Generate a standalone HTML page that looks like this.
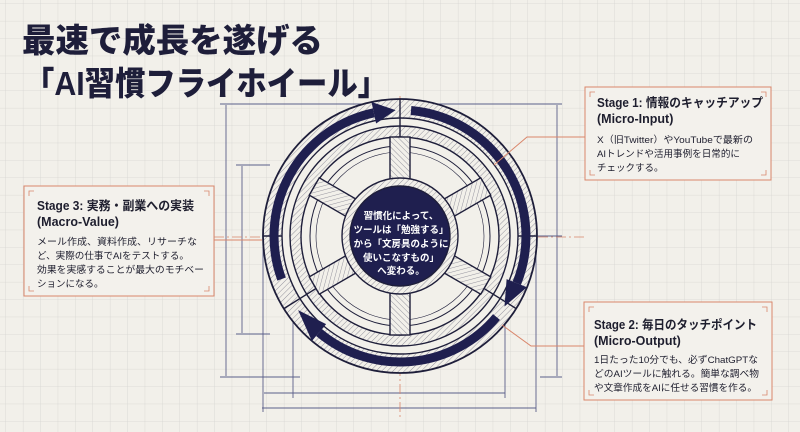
<!DOCTYPE html>
<html><head><meta charset="utf-8"><style>
html,body{margin:0;padding:0;width:800px;height:432px;overflow:hidden;background:#f2f0ea}
.t{font-family:"Liberation Sans","Noto Sans CJK JP",sans-serif}
</style></head><body>
<svg width="800" height="432" viewBox="0 0 800 432" xmlns="http://www.w3.org/2000/svg">
<defs>
<pattern id="g" width="17.4" height="17.4" patternUnits="userSpaceOnUse" x="6" y="4">
<path d="M17.4 0V17.4M0 17.4H17.4" stroke="#d6d5d2" stroke-width="0.8" fill="none"/></pattern>
<pattern id="h" width="4" height="4" patternUnits="userSpaceOnUse" patternTransform="rotate(45)">
<rect width="4" height="4" fill="#f2f0ea"/><line x1="0" y1="0" x2="0" y2="4" stroke="#8a8a95" stroke-width="0.9"/></pattern>
</defs>
<rect width="800" height="432" fill="url(#g)"/>
<!-- title -->
<text x="22" y="52" class="t" font-size="33" font-weight="900" fill="#1e1e3a" textLength="301" lengthAdjust="spacingAndGlyphs">最速で成長を遂げる</text>
<text x="24" y="95" class="t" font-size="33" font-weight="900" fill="#1e1e3a" textLength="364" lengthAdjust="spacingAndGlyphs">「AI習慣フライホイール」</text>

<!-- dimension lines -->
<g stroke="#5a5f8a" stroke-width="0.9" fill="#5a5f8a">
<line x1="226" y1="105" x2="226" y2="376"/><line x1="220" y1="104" x2="400" y2="104"/><line x1="220" y1="377" x2="300" y2="377"/>
<line x1="242" y1="166" x2="242" y2="333"/><line x1="236" y1="165" x2="270" y2="165"/><line x1="236" y1="334" x2="270" y2="334"/>
<line x1="264" y1="393" x2="505" y2="393"/><line x1="262" y1="408" x2="536" y2="408"/>
<line x1="293" y1="320" x2="293" y2="398"/><line x1="505" y1="300" x2="505" y2="398"/>
<line x1="263" y1="240" x2="263" y2="412"/><line x1="536" y1="240" x2="536" y2="412"/>
<line x1="557" y1="105" x2="557" y2="376"/><line x1="400" y1="104" x2="562" y2="104"/><line x1="540" y1="377" x2="562" y2="377"/>
<line x1="538" y1="236" x2="562" y2="236"/>
</g>
<!-- centerlines -->
<g stroke="#d9866b" stroke-width="0.8" stroke-dasharray="10 3 2 3" fill="none">
<line x1="214" y1="237" x2="586" y2="237"/><line x1="400" y1="96" x2="400" y2="420"/>
<line x1="300" y1="180" x2="500" y2="295"/><line x1="300" y1="295" x2="500" y2="180"/>
</g>

<!-- wheel -->
<g stroke="#1e1e3a" stroke-width="1.4">
<circle cx="400" cy="236" r="137" fill="url(#h)" stroke-width="1.8"/>
<circle cx="400" cy="236" r="118" fill="#f2f0ea"/>
<circle cx="400" cy="236" r="110" fill="url(#h)"/>
<circle cx="400" cy="236" r="99" fill="#f2f0ea"/>
<circle cx="400" cy="236" r="90" fill="none" stroke-width="1"/>
<circle cx="400" cy="236" r="84" fill="none" stroke-width="0.6"/>
<g transform="translate(400 236)" fill="url(#h)">
<rect x="57" y="-10" width="42" height="20" transform="rotate(90)"/>
<rect x="57" y="-10" width="42" height="20" transform="rotate(270)"/>
<rect x="57" y="-10" width="42" height="20" transform="rotate(30)"/>
<rect x="57" y="-10" width="42" height="20" transform="rotate(150)"/>
<rect x="57" y="-10" width="42" height="20" transform="rotate(210)"/>
<rect x="57" y="-10" width="42" height="20" transform="rotate(330)"/>
<line x1="99" y1="0" x2="137" y2="0" transform="rotate(270)"/>
<line x1="99" y1="0" x2="137" y2="0" transform="rotate(32)"/>
<line x1="99" y1="0" x2="137" y2="0" transform="rotate(148)"/>
<line x1="-137" y1="0" x2="-118" y2="0"/><line x1="118" y1="0" x2="137" y2="0"/>
</g>
<circle cx="400" cy="236" r="58" fill="url(#h)"/>
<circle cx="400" cy="236" r="50" fill="#1f1f4f"/>
</g>
<!-- arrows -->
<g fill="none" stroke="#1f1f4f" stroke-width="9">
<path d="M281.6 279.1 A126 126 0 0 1 373.8 112.8"/>
<path d="M411 110.5 A126 126 0 0 1 516.8 283.2"/>
<path d="M496.5 317 A126 126 0 0 1 319 332.5"/>
</g>
<g fill="#1f1f4f">
<polygon points="376.1,123.5 371.5,102 395.6,110.1"/>
<polygon points="506.6,279.1 527,287.3 504.5,306.5"/>
<polygon points="326.1,324.1 311.9,341 298.1,310.1"/>
</g>
<g class="t" font-size="9.5" font-weight="700" fill="#fff" text-anchor="middle">
<text x="401" y="219">習慣化によって、</text>
<text x="401" y="233">ツールは「勉強する」</text>
<text x="401" y="247">から「文房具のように</text>
<text x="401" y="261">使いこなすもの」</text>
<text x="401" y="274">へ変わる。</text>
</g>

<!-- leaders -->
<g stroke="#d9866b" stroke-width="1" fill="none">
<polyline points="585,137 527,137 494,165"/>
<polyline points="214,240 262,240"/>
<polyline points="584,346 531,346 502,325"/>
</g>

<!-- boxes -->
<g fill="#f3f1ec" stroke="#d9866b" stroke-width="1">
<rect x="585" y="87" width="186" height="93"/>
<rect x="24" y="186" width="190" height="110"/>
<rect x="584" y="302" width="188" height="98"/>
</g>
<g stroke="#d9866b" stroke-width="0.8" fill="none">
<path d="M590 97v-5h5M766 97v-5h-5M590 170v5h5M766 170v5h-5"/>
<path d="M29 196v-5h5M209 196v-5h-5M29 286v5h5M209 286v5h-5"/>
<path d="M589 312v-5h5M767 312v-5h-5M589 390v5h5M767 390v5h-5"/>
</g>
<g class="t" fill="#1e1e2e" lengthAdjust="spacingAndGlyphs">
<text x="597" y="107" font-size="12.5" font-weight="700" textLength="166" lengthAdjust="spacingAndGlyphs">Stage 1: 情報のキャッチアップ</text>
<text x="597" y="123" font-size="12.5" font-weight="700">(Micro-Input)</text>
<text x="597" y="143" font-size="9.5" textLength="156" lengthAdjust="spacingAndGlyphs">X（旧Twitter）やYouTubeで最新の</text>
<text x="597" y="157" font-size="9.5" textLength="143" lengthAdjust="spacingAndGlyphs">AIトレンドや活用事例を日常的に</text>
<text x="597" y="171" font-size="9.5">チェックする。</text>

<text x="37" y="210" font-size="12.5" font-weight="700" textLength="157" lengthAdjust="spacingAndGlyphs">Stage 3: 実務・副業への実装</text>
<text x="37" y="226" font-size="12.5" font-weight="700">(Macro-Value)</text>
<text x="37" y="245" font-size="9.5" textLength="160" lengthAdjust="spacingAndGlyphs">メール作成、資料作成、リサーチな</text>
<text x="37" y="259" font-size="9.5" textLength="152" lengthAdjust="spacingAndGlyphs">ど、実際の仕事でAIをテストする。</text>
<text x="37" y="273" font-size="9.5" textLength="167" lengthAdjust="spacingAndGlyphs">効果を実感することが最大のモチベー</text>
<text x="37" y="287" font-size="9.5">ションになる。</text>

<text x="594" y="329" font-size="12.5" font-weight="700" textLength="163" lengthAdjust="spacingAndGlyphs">Stage 2: 毎日のタッチポイント</text>
<text x="594" y="345" font-size="12.5" font-weight="700">(Micro-Output)</text>
<text x="594" y="363" font-size="9.5" textLength="164" lengthAdjust="spacingAndGlyphs">1日たった10分でも、必ずChatGPTな</text>
<text x="594" y="377" font-size="9.5" textLength="165" lengthAdjust="spacingAndGlyphs">どのAIツールに触れる。簡単な調べ物</text>
<text x="594" y="391" font-size="9.5" textLength="163" lengthAdjust="spacingAndGlyphs">や文章作成をAIに任せる習慣を作る。</text>
</g>
</svg>
</body></html>
